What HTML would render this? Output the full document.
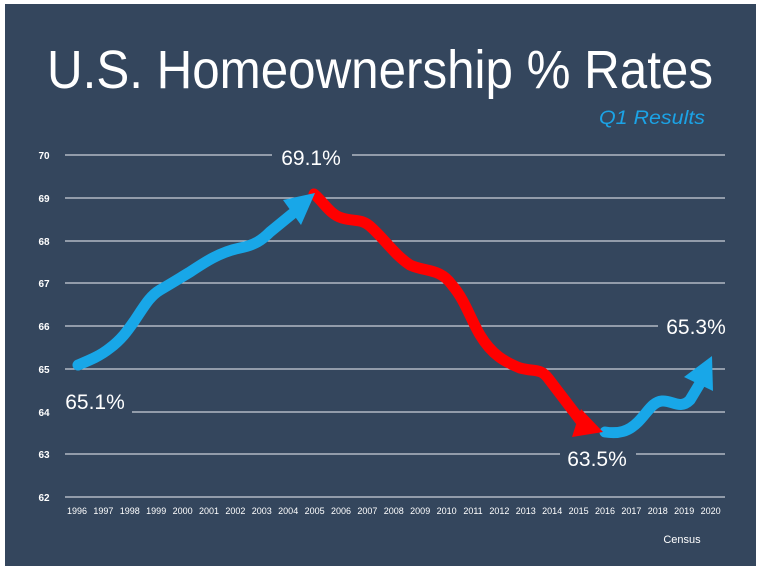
<!DOCTYPE html>
<html><head><meta charset="utf-8"><style>
html,body{margin:0;padding:0;background:#fff;}
svg{display:block;}
</style></head><body>
<svg width="758" height="569" viewBox="0 0 758 569" xmlns="http://www.w3.org/2000/svg" font-family="Liberation Sans, sans-serif">
<rect x="0" y="0" width="758" height="569" fill="#fff"/>
<rect x="5" y="4" width="751" height="562" fill="#34465d"/>
<text x="380" y="88" fill="#fff" font-size="54" text-anchor="middle" textLength="666" lengthAdjust="spacingAndGlyphs">U.S. Homeownership % Rates</text>
<text x="705" y="124" fill="#1ba3e6" font-size="19" font-style="italic" text-anchor="end" textLength="106" lengthAdjust="spacingAndGlyphs">Q1 Results</text>
<g stroke="#c9cfd8" stroke-width="1.2">
<line x1="65" x2="725" y1="155" y2="155"/>
<line x1="65" x2="725" y1="198" y2="198"/>
<line x1="65" x2="725" y1="241" y2="241"/>
<line x1="65" x2="725" y1="283" y2="283"/>
<line x1="65" x2="725" y1="326" y2="326"/>
<line x1="65" x2="725" y1="369" y2="369"/>
<line x1="65" x2="725" y1="412" y2="412"/>
<line x1="65" x2="725" y1="454" y2="454"/>
<line x1="65" x2="725" y1="497" y2="497"/>
</g>
<g fill="#fff" font-size="10" font-weight="bold" text-anchor="middle">
<text x="44" y="159">70</text><text x="44" y="202">69</text><text x="44" y="245">68</text>
<text x="44" y="287">67</text><text x="44" y="330">66</text><text x="44" y="373">65</text>
<text x="44" y="416">64</text><text x="44" y="458">63</text><text x="44" y="501">62</text>
</g>
<g fill="#fff" font-size="9" text-anchor="middle">
<text x="77" y="514">1996</text><text x="103.4" y="514">1997</text><text x="129.8" y="514">1998</text><text x="156.2" y="514">1999</text><text x="182.6" y="514">2000</text><text x="209" y="514">2001</text><text x="235.4" y="514">2002</text><text x="261.8" y="514">2003</text><text x="288.2" y="514">2004</text><text x="314.6" y="514">2005</text><text x="341" y="514">2006</text><text x="367.4" y="514">2007</text><text x="393.8" y="514">2008</text><text x="420.2" y="514">2009</text><text x="446.6" y="514">2010</text><text x="473" y="514">2011</text><text x="499.4" y="514">2012</text><text x="525.8" y="514">2013</text><text x="552.2" y="514">2014</text><text x="578.6" y="514">2015</text><text x="605" y="514">2016</text><text x="631.4" y="514">2017</text><text x="657.8" y="514">2018</text><text x="684.2" y="514">2019</text><text x="710.6" y="514">2020</text>
</g>
<text x="682" y="543" fill="#fff" font-size="11" text-anchor="middle">Census</text>
<g fill="#34465d">
<rect x="272" y="140" width="80" height="30"/>
<rect x="60" y="390" width="72" height="32"/>
<rect x="560" y="440" width="76" height="30"/>
<rect x="658" y="312" width="70" height="30"/>
</g>
<g fill="#fff" font-size="21" text-anchor="middle">
<text x="311" y="165">69.1%</text>
<text x="95" y="409">65.1%</text>
<text x="597" y="466">63.5%</text>
<text x="696" y="334">65.3%</text>
</g>
<g fill="none" stroke-width="11" stroke-linecap="round" stroke-linejoin="round">
<path stroke="#18a7e8" d="M78,365 C90,360 100,356 110,348 C122,339 128,330 135,320 C145,305 150,296 160,290 C172,283 180,278 190,272 C205,262 220,252 240,248 C255,245 262,240 270,232 L292,214"/>
<path stroke="#ff0000" d="M314,194 C322,200 330,215 342,218 C355,222 362,218 372,228 C385,240 395,255 410,265 C425,272 440,268 452,285 C465,300 470,318 480,335 C492,355 505,362 520,368 C535,372 540,368 548,378 L580,420"/>
<path stroke="#18a7e8" d="M605,432 C618,434 628,432 638,422 C648,412 652,402 662,401 C672,400 680,410 690,400 L702,380"/>
</g>
<polygon fill="#18a7e8" points="315,193 283,200 301,225"/>
<polygon fill="#ff0000" points="603,432 572,437 581,409"/>
<polygon fill="#18a7e8" points="712,356 684,377 713,391"/>
</svg>
</body></html>
